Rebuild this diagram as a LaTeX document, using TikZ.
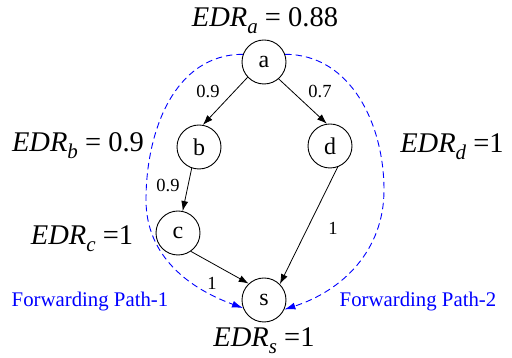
\documentclass[tikz,border=0pt]{standalone}
\usepackage{fontspec}
\setmainfont{Liberation Serif}
\usetikzlibrary{arrows.meta}
\newcommand{\edrlab}[2]{{\fontsize{28.5}{32}\selectfont\itshape EDR\raisebox{-7pt}{\fontsize{21}{22}\selectfont #1}\upshape #2}}
\begin{document}
\begin{tikzpicture}[x=1pt,y=1pt,
  vtx/.style={circle,draw,line width=0.9pt,minimum size=44pt,inner sep=0pt,font=\fontsize{24}{26}\selectfont},
  edge/.style={line width=0.8pt,-{Latex[length=10pt,width=7pt]}},
  fwd/.style={blue,dashed,dash pattern=on 6.5pt off 4pt,line width=0.9pt,-{Latex[length=11pt,width=7pt]}},
  wlab/.style={font=\fontsize{18.5}{20}\selectfont,inner sep=0pt},
  edrl/.style={anchor=base,inner sep=0pt},
  pathlab/.style={blue,anchor=base,inner sep=0pt,font=\fontsize{20.8}{23}\selectfont}]
\useasboundingbox (0,0) rectangle (512,358);
\node[vtx] (a) at (264,296) {a};
\node[vtx] (b) at (199,211) {b};
\node[vtx] (d) at (330,212) {d};
\node[vtx] (c) at (178,125) {c};
\node[vtx] (s) at (264,58) {s};
\draw[edge] (a.223) -- (b.80);
\draw[edge] (a.-49) -- (d.98);
\draw[edge] (b.251) -- (c.78);
\draw[edge] (c.-55) -- (s.133);
\draw[edge] (d.-70) -- (s.45);
\node[wlab] (w1) at (208,267) {0.9};
\node[wlab] (w2) at (320,267) {0.7};
\node[wlab] (w3) at (168,173) {0.9};
\node[wlab] (w4) at (333,130) {1};
\node[wlab] (w5) at (212,75) {1};
\coordinate (L) at (146,158);
\coordinate (R) at (384,168);
\draw[fwd] (a.160) to[out=180,in=90] (L) to[out=270,in=160] (s.201);
\draw[fwd] (a.20) to[out=0,in=90] (R) to[out=270,in=18] (s.-25);
\node[pathlab] (p1) at (90,51) {Forwarding Path-1};
\node[pathlab] (p2) at (418,51) {Forwarding Path-2};
\node[edrl] (ea) at (265,331) {\edrlab{a}{ = 0.88}};
\node[edrl] (eb) at (78,206) {\edrlab{b}{ = 0.9}};
\node[edrl] (ec) at (82,113) {\edrlab{c}{ =1}};
\node[edrl] (ed) at (452,205) {\edrlab{d}{ =1}};
\node[edrl] (es) at (264,11) {\edrlab{s}{ =1}};
\end{tikzpicture}
\end{document}
